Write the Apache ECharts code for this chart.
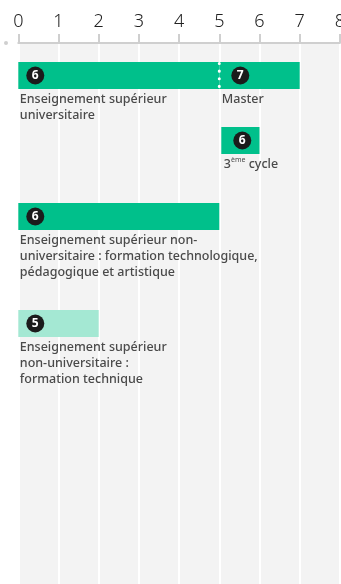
<!DOCTYPE html>
<html>
<head>
<meta charset="utf-8">
<script src="https://cdn.jsdelivr.net/npm/echarts@6/dist/echarts.min.js"></script>
<style>
html,body{margin:0;padding:0;background:#fff;}
#chart{width:341px;height:584px;}
</style>
</head>
<body>
<div id="chart"></div>
<script>
// ---- data ----
const tickValues = [0, 1, 2, 3, 4, 5, 6, 7, 8];
const segStart = [0, 5, 5, 0, 0];
const segEnd = [5, 7, 6, 5, 2];
const segBadge = [6, 7, 6, 6, 5];
const segRow = [0, 0, 1, 2, 3];
const segKind = ['main', 'main', 'main', 'main', 'light'];
const segLabel = [
  'Enseignement supérieur\nuniversitaire',
  'Master',
  '3{sup|ème} cycle',
  'Enseignement supérieur non-\nuniversitaire : formation technologique,\npédagogique et artistique',
  'Enseignement supérieur\nnon-universitaire :\nformation technique'
];

// ---- layout (not data) ----
const rowTop = [19, 84, 160, 267];   // in y-axis layout units (grid pixels)
const barH = 27;
const colors = { main: '#00c08b', light: '#a4e8d3' };
const FONT = 'Noto Sans';

const chart = echarts.init(document.getElementById('chart'));

const seriesData = segStart.map((s, i) => [s, segEnd[i], segRow[i], segBadge[i], i]);

function renderItem(params, api) {
  const i = api.value(4);
  const s = api.value(0), e = api.value(1), r = api.value(2);
  const p0 = api.coord([s, rowTop[r]]);
  const p1 = api.coord([e, rowTop[r] + barH]);
  const continues = i > 0 && segRow[i - 1] === r && segEnd[i - 1] === s;
  let left = p0[0];
  if (s > 0 && !continues) left += 2;
  const top = p0[1], bottom = p1[1];
  const children = [];
  children.push({
    type: 'rect',
    shape: { x: left, y: top, width: p1[0] - left, height: bottom - top },
    style: { fill: colors[segKind[i]] }
  });
  if (continues) {
    children.push({
      type: 'line',
      shape: { x1: left, y1: top + 1.5, x2: left, y2: bottom - 1 },
      style: { stroke: '#fff', lineWidth: 3, lineDash: [0.1, 7.5], lineCap: 'round' },
      z2: 5
    });
  }
  const bx = left + (s === 0 ? 17 : 21);
  const by = (top + bottom) / 2;
  children.push({
    type: 'circle',
    shape: { cx: bx, cy: by, r: 9 },
    style: { fill: '#1b1b1b' },
    z2: 6
  });
  children.push({
    type: 'text',
    x: bx, y: by + 0.5,
    style: {
      text: String(api.value(3)),
      fill: '#fff', font: 'bold 12px "' + FONT + '"',
      align: 'center', verticalAlign: 'middle'
    },
    z2: 7
  });
  children.push({
    type: 'text',
    x: left + (s === 0 ? 1.5 : 2.5), y: bottom + 2,
    style: {
      text: segLabel[i],
      fill: '#4a4a4a',
      fontFamily: FONT, fontSize: 12.5, fontWeight: 500,
      lineHeight: 16,
      align: 'left', verticalAlign: 'top',
      rich: {
        sup: { fontSize: 7, fontFamily: FONT, fill: '#4a4a4a', verticalAlign: 'top', lineHeight: 10, padding: [0, 0, 6, 0] }
      }
    },
    z2: 7
  });
  return { type: 'group', children };
}

chart.setOption({
  animation: false,
  grid: { left: 18.3, right: 1.1, top: 43, bottom: 0, containLabel: false, outerBoundsMode: 'none' },
  xAxis: {
    type: 'value',
    position: 'top',
    min: tickValues[0],
    max: tickValues[tickValues.length - 1],
    interval: 1,
    axisLine: { show: true, lineStyle: { color: '#cfcfcf', width: 2 } },
    axisTick: { show: true, inside: false, length: 9, lineStyle: { color: '#cfcfcf', width: 2 } },
    axisLabel: {
      margin: 12, color: '#222', fontSize: 18, fontFamily: FONT, fontWeight: 300,
      showMinLabel: true, showMaxLabel: true, hideOverlap: false
    },
    splitLine: { show: true, lineStyle: { color: '#ffffff', width: 2 } },
    splitArea: { show: true, areaStyle: { color: ['#f3f3f3', '#f3f3f3'] } }
  },
  yAxis: {
    type: 'value', inverse: true, min: 0, max: 541, show: false,
    splitLine: { show: false }
  },
  graphic: [{
    type: 'circle', shape: { cx: 6, cy: 43, r: 2 }, style: { fill: '#cfcfcf' }
  }],
  series: [{
    type: 'custom',
    renderItem,
    data: seriesData,
    encode: { x: [0, 1] },
    clip: false
  }]
});
</script>
</body>
</html>
